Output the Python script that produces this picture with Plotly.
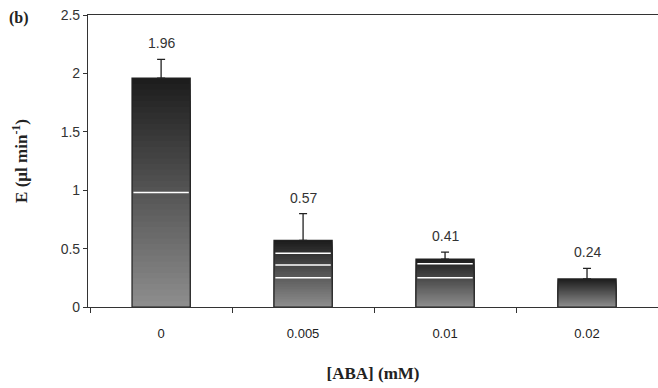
import plotly.graph_objects as go

categories = ["0", "0.005", "0.01", "0.02"]
values = [1.96, 0.57, 0.41, 0.24]
errors = [0.16, 0.23, 0.06, 0.09]
value_labels = ["1.96", "0.57", "0.41", "0.24"]
white_line_levels = [[0.98], [0.25, 0.36, 0.46], [0.25, 0.37], []]
y_ticks = [0, 0.5, 1, 1.5, 2, 2.5]
y_tick_labels = ["0", "0.5", "1", "1.5", "2", "2.5"]

BAR_W = 0.41
N = 40
top_rgb = (28, 28, 28)
bot_rgb = (142, 142, 142)
L, T, PW, PH = 88, 15, 570, 292

fig = go.Figure()

# gradient: overlapping bars, each later one shorter and lighter
for k in range(N):
    frac = 1 - k / N
    t = (k + 0.5) / N
    c = tuple(int(round(top_rgb[j] + (bot_rgb[j] - top_rgb[j]) * t)) for j in range(3))
    fig.add_trace(go.Bar(
        x=categories, y=[v * frac for v in values], base=[0] * len(values),
        width=BAR_W, marker=dict(color="rgb(%d,%d,%d)" % c, line=dict(width=0)),
        hoverinfo="skip", showlegend=False))

# outline with error bars
fig.add_trace(go.Bar(
    x=categories, y=values, base=[0] * len(values), width=BAR_W,
    marker=dict(color="rgba(0,0,0,0)", line=dict(color="#222222", width=1.2)),
    error_y=dict(type="data", symmetric=False, array=errors, arrayminus=[0] * len(values),
                 color="#222222", thickness=1.3, width=4),
    showlegend=False))

shapes = []
for i, levels in enumerate(white_line_levels):
    for lv in levels:
        shapes.append(dict(type="line", xref="x", yref="y",
                           x0=i - BAR_W / 2 + 0.01, x1=i + BAR_W / 2 - 0.01, y0=lv, y1=lv,
                           line=dict(color="white", width=1.5)))

annotations = []
for i, (v, e, lab) in enumerate(zip(values, errors, value_labels)):
    annotations.append(dict(x=i, y=v + e, xref="x", yref="y", text=lab,
                            showarrow=False, yanchor="bottom", yshift=6,
                            font=dict(family="Liberation Sans, Arial", size=14, color="#333333")))
annotations.append(dict(x=(7 - L) / PW, y=1 - (18 - T) / PH, xref="paper", yref="paper",
                        text="<b>(b)</b>", showarrow=False, xanchor="left", yanchor="middle",
                        font=dict(family="Liberation Serif, Times New Roman", size=16, color="#222222")))

fig.update_layout(
    width=658, height=388, margin=dict(l=L, r=0, t=T, b=388 - T - PH),
    paper_bgcolor="white", plot_bgcolor="white", barmode="overlay",
    shapes=shapes, annotations=annotations,
    xaxis=dict(type="category", range=[-0.515, 3.5], tickson="boundaries",
               showline=True, linecolor="#333333", linewidth=1.2, mirror=True,
               ticks="outside", ticklen=5, tickcolor="#333333",
               showgrid=False, zeroline=False, ticklabelstandoff=14,
               tickfont=dict(family="Liberation Sans, Arial", size=13, color="#222222"),
               title=dict(text="<b>[ABA] (mM)</b>", standoff=27,
                          font=dict(family="Liberation Serif, Times New Roman", size=17, color="#222222"))),
    yaxis=dict(range=[0, 2.5], tickvals=y_ticks, ticktext=y_tick_labels,
               showline=True, linecolor="#333333", linewidth=1.2,
               ticks="outside", ticklen=4, tickcolor="#333333",
               showgrid=False, zeroline=False,
               tickfont=dict(family="Liberation Sans, Arial", size=14, color="#333333"),
               title=dict(text="<b>E (µl min<sup>-1</sup>)</b>", standoff=28,
                          font=dict(family="Liberation Serif, Times New Roman", size=17, color="#222222"))),
)

fig.write_html("out.html")
